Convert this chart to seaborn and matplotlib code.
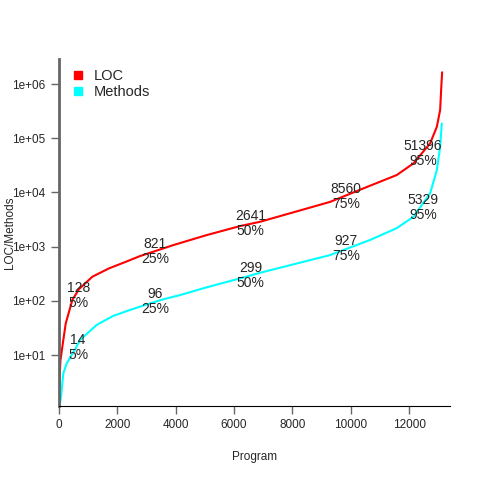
import pandas as pd
import seaborn as sns
import matplotlib.pyplot as plt
from matplotlib.lines import Line2D

# points (program rank, value)
loc_x = [1, 50, 113, 229, 457, 686, 1143, 1714, 2286, 2777, 3919, 5063, 6205, 6891, 9290,
         10433, 11577, 12147, 12718, 12948, 13062, 13096, 13130]
loc_y = [2, 8, 14, 38, 104, 165, 279, 398, 525, 671, 1070, 1637, 2400, 2880, 6700,
         11900, 21000, 34400, 80500, 162000, 331000, 780000, 1650000]
meth_x = [1, 69, 148, 263, 571, 720, 1292, 1862, 2434, 3006, 3576, 4148, 5063, 6205, 6891,
          9290, 10662, 11577, 12147, 12718, 12948, 13062, 13118]
meth_y = [1, 1.7, 4.6, 7, 13.3, 19, 36, 53, 68, 86, 107, 128, 178, 260, 330,
          700, 1330, 2200, 3560, 9600, 25800, 69000, 187000]

# quantile labels
q_x = [656, 3283, 6565, 9848, 12474]
q_names = ['5%', '25%', '50%', '75%', '95%']
q_loc = [128, 821, 2641, 8560, 51396]
q_meth = [14, 96, 299, 927, 5329]

df = pd.concat([
    pd.DataFrame({'program': loc_x, 'value': loc_y, 'serie': 'LOC'}),
    pd.DataFrame({'program': meth_x, 'value': meth_y, 'serie': 'Methods'}),
])

sns.set_style('ticks')
plt.rcParams['font.family'] = ['Liberation Sans', 'DejaVu Sans']

fig = plt.figure(figsize=(4.8, 4.8), dpi=100)
ax = fig.add_axes([59 / 480, 74 / 480, 391 / 480, 347 / 480])

sns.lineplot(data=df, x='program', y='value', hue='serie',
             palette={'LOC': 'red', 'Methods': 'cyan'}, linewidth=1.5,
             legend=False, ax=ax)
ax.set_yscale('log')
ax.set_xlim(0, 13400)
ax.set_ylim(1.15, 2.9e6)

for x, v, n in zip(q_x, q_loc, q_names):
    ax.text(x, v, f'{v}\n{n}', ha='center', va='center', fontsize=10, linespacing=1.1)
for x, v, n in zip(q_x, q_meth, q_names):
    ax.text(x, v, f'{v}\n{n}', ha='center', va='center', fontsize=10, linespacing=1.1)

ax.set_yticks([1e1, 1e2, 1e3, 1e4, 1e5, 1e6])
ax.set_yticklabels(['1e+01', '1e+02', '1e+03', '1e+04', '1e+05', '1e+06'])
ax.yaxis.set_minor_locator(plt.NullLocator())
ax.set_xticks([0, 2000, 4000, 6000, 8000, 10000, 12000])
ax.tick_params(labelsize=8.5, length=6, color='#666666', width=1)
ax.tick_params(axis='y', pad=4)
ax.set_xlabel('Program', fontsize=8.5, labelpad=14)
ax.set_ylabel('LOC/Methods', fontsize=8.5)
ax.yaxis.set_label_coords(-0.11, 0.5)

sns.despine(ax=ax)
ax.spines['left'].set_color('#666666')
ax.spines['left'].set_linewidth(2)
ax.spines['bottom'].set_color('black')

handles = [Line2D([], [], marker='s', color='red', linestyle='none', markersize=6),
           Line2D([], [], marker='s', color='cyan', linestyle='none', markersize=6)]
ax.legend(handles, ['LOC', 'Methods'], loc='upper left', frameon=False, fontsize=10.5,
          handletextpad=0.5, labelspacing=0.1, borderaxespad=0.3, handlelength=1.2)

fig.savefig('out.png', dpi=100)
